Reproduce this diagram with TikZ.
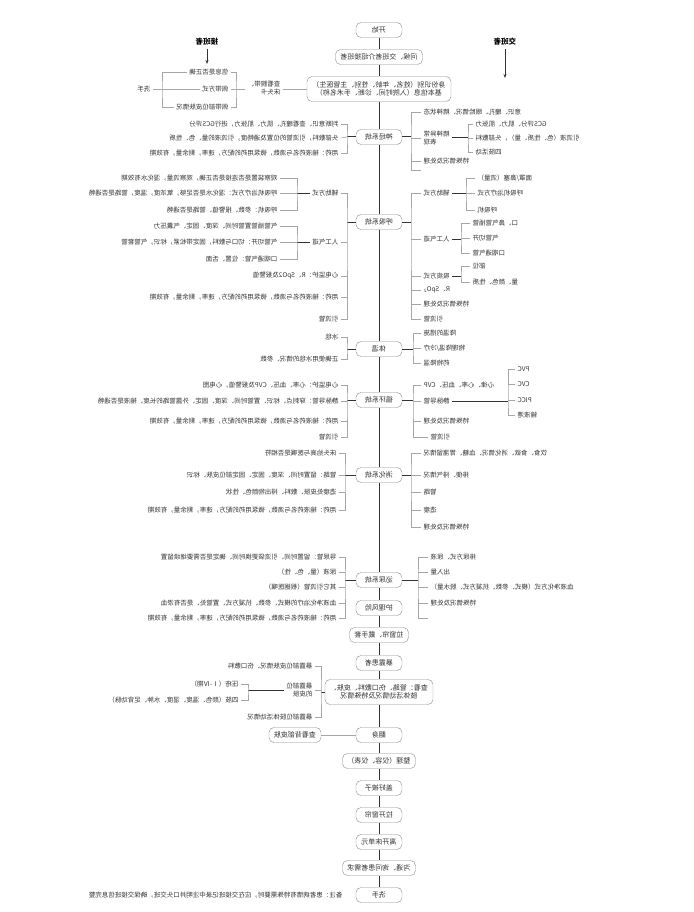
\documentclass[tikz,border=0pt]{standalone}
\usepackage{fontspec}
\setmainfont{Noto Sans CJK SC}
\usetikzlibrary{arrows.meta, positioning, calc}
\definecolor{inkgray}{HTML}{333333}
\definecolor{boxgray}{HTML}{8C8C8C}
\definecolor{brkgray}{HTML}{A6A6A6}

\begin{document}
\begin{tikzpicture}[x=1pt, y=-1pt, xscale=-1, transform shape,
    stepbox/.style={draw=boxgray, rounded corners=5pt, fill=white, text=inkgray,
      font=\fontsize{7}{8.5}\selectfont, minimum width=46pt, minimum height=15pt,
      inner xsep=5pt, inner ysep=2pt, align=center},
    item/.style={text=inkgray, font=\fontsize{6.5}{8}\selectfont, inner xsep=2.5pt, inner ysep=1pt},
    role/.style={text=black, font=\fontsize{7.5}{9}\selectfont\bfseries},
    spine/.style={draw=inkgray, line width=0.8pt},
    hub/.style={draw=inkgray, line width=1pt},
    brk/.style={draw=brkgray, line width=0.6pt},
    arr/.style={draw=inkgray, line width=0.6pt, -{Stealth[length=4pt]}}]
    \useasboundingbox (0,0) rectangle (693,912);

    % Nodes
    \node[stepbox] (start) at (314,30) {开始};
    \node[stepbox] (greet) at (314,57) {问候、交班者介绍接班者};
    \node[stepbox, minimum width=144pt, minimum height=25pt] (ident) at (314,89) {身份识别（姓名、年龄、性别、主管医生）\\基本信息（入院时间、诊断、手术名称）};

    \node[role] (recv) at (486,42) {接班者};
    \coordinate (recvend) at (486,64);
    \node[role] (give) at (188,42) {交班者};
    \coordinate (giveend) at (188,78);

    \node[item, anchor=west, align=left] (band) at (410,88) {查看腕带、\\床头卡};
    \coordinate (bandL) at (457,89);
    \coordinate (bandR) at (531,89);
    \node[item, anchor=west] (bd1) at (462,72) {信息是否正确};
    \node[item, anchor=west] (bd2) at (462,89) {佩带方式};
    \node[item, anchor=west] (bd3) at (462,107) {佩带部位皮肤情况};
    \node[item, anchor=west] (wash1) at (540,89) {洗手};

    % neuro
    \node[stepbox] (neuro) at (314,137) {神经系统};
    \coordinate (neuroR) at (346,137);
    \coordinate (neuroL) at (282,137);
    \node[item, anchor=west] (nr1) at (352,124) {判断意识、查看瞳孔、肌力、肌张力，进行GCS评分};
    \node[item, anchor=west] (nr2) at (352,138) {头部敷料，引流管的位置及通畅度，引流液的量、色、性质};
    \node[item, anchor=west] (nr3) at (352,153) {用药：输液药名与滴数，微泵用药的配方，速率，剩余量，有效期};
    \node[item, anchor=east] (nl1) at (272,112) {意识、瞳孔、眼睑情况、精神状态};
    \node[item, anchor=east, align=right] (nl2) at (272,138) {精神异常\\表现};
    \node[item, anchor=east] (nl3) at (272,161) {特殊情况及处理};
    \coordinate (nl4) at (272,170);
    \coordinate (nl2B) at (225,138);
    \node[item, anchor=east] (nl2a) at (220,124) {GCS评分、肌力、肌张力};
    \node[item, anchor=east] (nl2b) at (220,138) {引流液（色、性质、量），头部敷料};
    \node[item, anchor=east] (nl2c) at (220,152) {四肢活动};

    % respiration
    \node[stepbox] (resp) at (314,222) {呼吸系统};
    \coordinate (respR) at (346,222);
    \coordinate (respL) at (282,222);
    \node[item, anchor=west] (rr1) at (352,193) {辅助方式};
    \coordinate (rr1B) at (396,193);
    \node[item, anchor=west] (rr1a) at (413,178) {观察装置是否连接是否正确，观察流量，湿化水有效期};
    \node[item, anchor=west] (rr1b) at (413,193) {呼吸机治疗方式：湿化水是否足够，氧浓度，温度，管路是否通畅};
    \node[item, anchor=west] (rr1c) at (413,210) {呼吸机：参数、报警值、管路是否通畅};
    \node[item, anchor=west] (rr2) at (352,242) {人工气道};
    \coordinate (rr2B) at (396,242);
    \node[item, anchor=west] (rr2a) at (413,226) {气管插管置管时间、深度、固定、气囊压力};
    \node[item, anchor=west] (rr2b) at (413,242) {气管切开：切口与敷料，固定带松紧，标识，气管套管};
    \node[item, anchor=west] (rr2c) at (413,259) {口咽通气管：位置、舌面};
    \node[item, anchor=west] (rr3) at (352,276) {心电监护：R、SpO2及报警值};
    \node[item, anchor=west] (rr4) at (352,297) {用药：输液药名与滴数，微泵用药的配方，速率，剩余量，有效期};
    \node[item, anchor=west] (rr5) at (352,319) {引流管};
    \node[item, anchor=east] (rl1) at (272,193) {辅助方式};
    \coordinate (rl1B) at (227,193);
    \node[item, anchor=east] (rl1a) at (218,178) {面罩/鼻塞（流量）};
    \node[item, anchor=east] (rl1b) at (218,193) {呼吸机治疗方式};
    \node[item, anchor=east] (rl1c) at (218,210) {呼吸机};
    \node[item, anchor=east] (rl2) at (272,239) {人工气道};
    \coordinate (rl2B) at (232,239);
    \node[item, anchor=east] (rl2a) at (223,223) {口、鼻气管插管};
    \node[item, anchor=east] (rl2b) at (223,238) {气管切开};
    \node[item, anchor=east] (rl2c) at (223,253) {口咽通气管};
    \node[item, anchor=east] (rl3) at (272,276) {吸痰方式};
    \coordinate (rl3B) at (232,276);
    \node[item, anchor=east] (rl3a) at (223,266) {部位};
    \node[item, anchor=east] (rl3b) at (223,282) {量、颜色、性质};
    \node[item, anchor=east] (rl4) at (272,290) {R、SpO\textsubscript{2}};
    \node[item, anchor=east] (rl5) at (272,304) {特殊情况及处理};
    \node[item, anchor=east] (rl6) at (272,319) {引流管};

    % temperature
    \node[stepbox] (temp) at (314,349) {体温};
    \coordinate (tempR) at (346,349);
    \coordinate (tempL) at (280,349);
    \node[item, anchor=west] (tr1) at (352,337) {冰毯};
    \node[item, anchor=west] (tr2) at (352,359) {正确使用冰毯的情况、参数};
    \node[item, anchor=east] (tl1) at (272,333) {降温的措施};
    \node[item, anchor=east] (tl2) at (272,348) {物理降温/冷疗};
    \node[item, anchor=east] (tl3) at (272,363) {药物降温};

    % circulation
    \node[stepbox] (circ) at (314,400) {循环系统};
    \coordinate (circR) at (346,400);
    \coordinate (circL) at (280,400);
    \node[item, anchor=west] (cr1) at (352,385) {心电监护：心率、血压、CVP及报警值，心电图};
    \node[item, anchor=west] (cr2) at (352,401) {静脉导管：穿刺点、标识、置管时间、深度、固定、外露管路的长度、输液是否通畅};
    \node[item, anchor=west] (cr3) at (352,421) {用药：输液药名与滴数，微泵用药的配方，速率，剩余量，有效期};
    \node[item, anchor=west] (cr4) at (352,437) {引流管};
    \node[item, anchor=east] (cl1) at (272,385) {心律、心率、血压、CVP};
    \node[item, anchor=east] (cl2) at (272,401) {静脉导管};
    \node[item, anchor=east] (cl3) at (272,421) {特殊情况及处理};
    \node[item, anchor=east] (cl4) at (265,437) {引流管};
    \coordinate (cl2B) at (185,401);
    \node[item, anchor=east] (cl2a) at (178,369) {PVC};
    \node[item, anchor=east] (cl2b) at (178,384) {CVC};
    \node[item, anchor=east] (cl2c) at (178,400) {PICC};
    \node[item, anchor=east] (cl2d) at (178,415) {输液港};

    % digestion
    \node[stepbox] (digest) at (314,475) {消化系统};
    \coordinate (digestR) at (348,475);
    \coordinate (digestL) at (282,475);
    \node[item, anchor=west] (dr1) at (354,453) {床头抬高与医嘱是否相符};
    \node[item, anchor=west] (dr2) at (354,475) {管路：留置时间、深度、固定、固定部位皮肤、标识};
    \node[item, anchor=west] (dr3) at (354,492) {造瘘处皮肤、敷料、排出物颜色、性状};
    \node[item, anchor=west] (dr4) at (354,510) {用药：输液药名与滴数，微泵用药的配方，速率，剩余量，有效期};
    \node[item, anchor=east] (dl1) at (272,453) {饮食、食欲、消化情况、血糖、胃潴留情况};
    \node[item, anchor=east] (dl2) at (272,475) {排便、排气情况};
    \node[item, anchor=east] (dl3) at (272,492) {管路};
    \node[item, anchor=east] (dl4) at (272,510) {造瘘};
    \node[item, anchor=east] (dl5) at (272,527) {特殊情况及处理};

    % urinary
    \node[stepbox] (urine) at (314,580) {泌尿系统};
    \coordinate (urineR) at (348,580);
    \coordinate (urineL) at (275,580);
    \node[item, anchor=west] (ur1) at (354,557) {导尿管：留置时间、引流袋更换时间、确定是否需要继续留置};
    \node[item, anchor=west] (ur2) at (354,572) {尿液（量、色、性）};
    \node[item, anchor=west] (ur3) at (354,587) {其它引流管（根据医嘱）};
    \node[item, anchor=west] (ur4) at (354,603) {血液净化治疗的模式、参数、抗凝方式、置管处、是否有渗血};
    \node[item, anchor=west] (ur5) at (354,618) {用药：输液药名与滴数，微泵用药的配方，速率，剩余量，有效期};
    \node[item, anchor=east] (ul1) at (265,557) {排尿方式、尿液};
    \node[item, anchor=east] (ul2) at (265,572) {出入量};
    \node[item, anchor=east] (ul3) at (265,587) {血液净化方式（模式、参数、抗凝方式、脱水量）};
    \node[item, anchor=east] (ul4) at (265,603) {特殊情况及处理};
    \coordinate (ul5) at (265,618);

    \node[stepbox] (risk) at (314,608) {护理风险};
    \node[stepbox] (curtain) at (314,635) {拉窗帘、戴手套};
    \node[stepbox] (expose) at (314,663) {暴露患者};
    \node[stepbox, minimum height=25pt] (check) at (314,692) {查看：管路、伤口敷料、皮肤、\\肢体活动情况及特殊情况};
    \coordinate (checkR) at (372,692);
    \node[item, anchor=west] (ck1) at (378,666) {暴露部位皮肤情况、伤口敷料};
    \node[item, anchor=west, align=left] (ck2) at (378,690) {暴露部位\\的皮肤};
    \coordinate (ck2B) at (445,690);
    \node[item, anchor=west] (ck2a) at (452,684) {压疮（Ⅰ-Ⅳ期）};
    \node[item, anchor=west] (ck2b) at (452,700) {四肢（颜色、温度、湿度、水肿、足背动脉）};
    \node[item, anchor=west] (ck3) at (378,717) {暴露部位肢体活动情况};
    \node[stepbox] (turn) at (314,735) {翻身};
    \node[stepbox] (back) at (398,735) {查看背部皮肤};
    \node[stepbox] (tidy) at (314,761) {整理（仪容、仪表）};
    \node[stepbox] (cover) at (314,788) {盖好被子};
    \node[stepbox] (open) at (314,815) {拉开窗帘};
    \node[stepbox] (leave) at (314,842) {离开床单元};
    \node[stepbox] (ask) at (314,868) {沟通、询问患者需求};
    \node[stepbox] (finish) at (314,895) {洗手};
    \node[item, anchor=west] (note) at (348,895) {备注：患者病情有特殊需要时，应在交接班记录中注明并口头交班，确保交接班信息完整};

    % Edges
    \draw[spine] (start) -- (greet);
    \draw[spine] (greet) -- (ident);
    \draw[spine] (ident) -- (neuro);
    \draw[spine] (neuro) -- (resp);
    \draw[spine] (resp) -- (temp);
    \draw[spine] (temp) -- (circ);
    \draw[spine] (circ) -- (digest);
    \draw[spine] (digest) -- (urine);
    \draw[spine] (urine) -- (risk);
    \draw[spine] (risk) -- (curtain);
    \draw[spine] (curtain) -- (expose);
    \draw[spine] (expose) -- (check);
    \draw[spine] (check) -- (turn);
    \draw[spine] (turn) -- (tidy);
    \draw[spine] (tidy) -- (cover);
    \draw[spine] (cover) -- (open);
    \draw[spine] (open) -- (leave);
    \draw[spine] (leave) -- (ask);
    \draw[spine] (ask) -- (finish);

    \draw[arr] (recv) -- (recvend);
    \draw[arr] (give) -- (giveend);

    \draw[brk] (ident.east) -- (band.west |- ident.east);
    \draw[brk] (band.east |- bandL) -- (bandL);
    \draw[brk] (bd1.west) -| (bandL) |- (bd3.west);
    \draw[brk] (bandL) -- (bd2.west);
    \draw[brk] (bd1.east) -| (bandR) |- (bd3.east);
    \draw[brk] (bd2.east) -- (bandR);
    \draw[brk] (bandR) -- (wash1.west);

    \draw[hub] (neuro.east) -- (neuroR);
    \draw[brk] (nr1.west) -| (neuroR) |- (nr3.west);
    \draw[brk] (neuroR) -- (nr2.west);
    \draw[hub] (neuro.west) -- (neuroL);
    \draw[brk] (nl1.east) -| (neuroL) |- (nl4);
    \draw[brk] (neuroL |- nl2.east) -- (nl2.east);
    \draw[brk] (neuroL |- nl3.east) -- (nl3.east);
    \draw[hub] (nl2.west) -- (nl2B);
    \draw[brk] (nl2a.east) -| (nl2B) |- (nl2c.east);
    \draw[brk] (nl2B) -- (nl2b.east);

    \draw[hub] (resp.east) -- (respR);
    \draw[brk] (rr1.west) -| (respR) |- (rr5.west);
    \draw[brk] (respR |- rr2.west) -- (rr2.west);
    \draw[brk] (respR |- rr3.west) -- (rr3.west);
    \draw[brk] (respR |- rr4.west) -- (rr4.west);
    \draw[hub] (rr1.east) -- (rr1B);
    \draw[brk] (rr1a.west) -| (rr1B) |- (rr1c.west);
    \draw[brk] (rr1B) -- (rr1b.west);
    \draw[hub] (rr2.east) -- (rr2B);
    \draw[brk] (rr2a.west) -| (rr2B) |- (rr2c.west);
    \draw[brk] (rr2B) -- (rr2b.west);
    \draw[hub] (resp.west) -- (respL);
    \draw[brk] (rl1.east) -| (respL) |- (rl6.east);
    \draw[brk] (respL |- rl2.east) -- (rl2.east);
    \draw[brk] (respL |- rl3.east) -- (rl3.east);
    \draw[brk] (respL |- rl4.east) -- (rl4.east);
    \draw[brk] (respL |- rl5.east) -- (rl5.east);
    \draw[hub] (rl1.west) -- (rl1B);
    \draw[brk] (rl1a.east) -| (rl1B) |- (rl1c.east);
    \draw[brk] (rl1B) -- (rl1b.east);
    \draw[hub] (rl2.west) -- (rl2B);
    \draw[brk] (rl2a.east) -| (rl2B) |- (rl2c.east);
    \draw[brk] (rl2B |- rl2b.east) -- (rl2b.east);
    \draw[hub] (rl3.west) -- (rl3B);
    \draw[brk] (rl3a.east) -| (rl3B) |- (rl3b.east);

    \draw[hub] (temp.east) -- (tempR);
    \draw[brk] (tr1.west) -| (tempR) |- (tr2.west);
    \draw[hub] (temp.west) -- (tempL);
    \draw[brk] (tl1.east) -| (tempL) |- (tl3.east);
    \draw[brk] (tempL |- tl2.east) -- (tl2.east);

    \draw[hub] (circ.east) -- (circR);
    \draw[brk] (cr1.west) -| (circR) |- (cr4.west);
    \draw[brk] (circR |- cr2.west) -- (cr2.west);
    \draw[brk] (circR |- cr3.west) -- (cr3.west);
    \draw[hub] (circ.west) -- (circL);
    \draw[brk] (cl1.east) -| (circL) |- (cl4.east);
    \draw[brk] (circL |- cl2.east) -- (cl2.east);
    \draw[brk] (circL |- cl3.east) -- (cl3.east);
    \draw[hub] (cl2.west) -- (cl2B);
    \draw[brk] (cl2a.east) -| (cl2B) |- (cl2d.east);
    \draw[brk] (cl2B |- cl2b.east) -- (cl2b.east);
    \draw[brk] (cl2B |- cl2c.east) -- (cl2c.east);

    \draw[hub] (digest.east) -- (digestR);
    \draw[brk] (dr1.west) -| (digestR) |- (dr4.west);
    \draw[brk] (digestR |- dr2.west) -- (dr2.west);
    \draw[brk] (digestR |- dr3.west) -- (dr3.west);
    \draw[hub] (digest.west) -- (digestL);
    \draw[brk] (dl1.east) -| (digestL) |- (dl5.east);
    \draw[brk] (digestL |- dl2.east) -- (dl2.east);
    \draw[brk] (digestL |- dl3.east) -- (dl3.east);
    \draw[brk] (digestL |- dl4.east) -- (dl4.east);

    \draw[hub] (urine.east) -- (urineR);
    \draw[brk] (ur1.west) -| (urineR) |- (ur5.west);
    \draw[brk] (urineR |- ur2.west) -- (ur2.west);
    \draw[brk] (urineR |- ur3.west) -- (ur3.west);
    \draw[brk] (urineR |- ur4.west) -- (ur4.west);
    \draw[hub] (urine.west) -- (urineL);
    \draw[brk] (ul1.east) -| (urineL) |- (ul5);
    \draw[brk] (urineL |- ul2.east) -- (ul2.east);
    \draw[brk] (urineL |- ul3.east) -- (ul3.east);
    \draw[brk] (urineL |- ul4.east) -- (ul4.east);

    \draw[hub] (check.east) -- (checkR);
    \draw[brk] (ck1.west) -| (checkR) |- (ck3.west);
    \draw[brk] (checkR |- ck2.west) -- (ck2.west);
    \draw[hub] (ck2.east) -- (ck2B);
    \draw[brk] (ck2a.west) -| (ck2B) |- (ck2b.west);
    \draw[brk] (turn) -- (back);
\end{tikzpicture}
\end{document}
